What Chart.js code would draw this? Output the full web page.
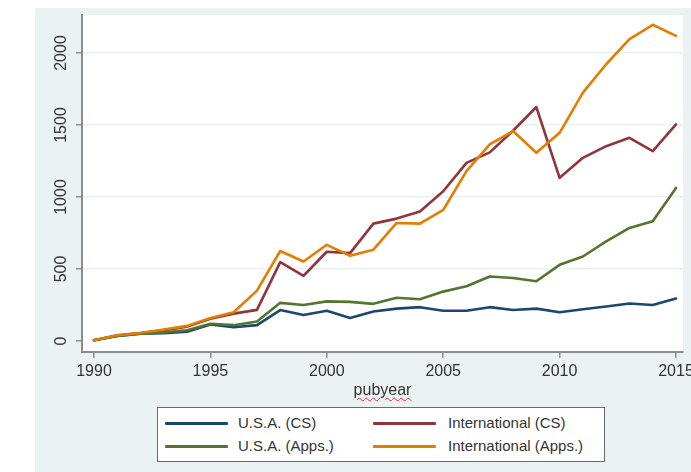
<!DOCTYPE html>
<html>
<head>
<meta charset="utf-8">
<script src="https://cdn.jsdelivr.net/npm/chart.js@4/dist/chart.umd.min.js"></script>
<style>
  html, body { margin: 0; padding: 0; background: #fff; }
  #wrap { position: relative; width: 691px; height: 472px; overflow: hidden; }
  #region { position: absolute; left: 35px; top: 8px; width: 656px; height: 464px; background: #eaf2f3; }
  #chart { position: absolute; left: 0; top: 0; }
  #xtitle { position: absolute; top: 381px; left: 82px; width: 601px; text-align: center;
            font: 16px "Liberation Sans", Arial, sans-serif; color: #333;
            text-decoration: underline wavy #e0303a; text-underline-offset: 2px; text-decoration-thickness: 1px; }
  #legend { position: absolute; left: 157px; top: 407px; width: 446px; height: 53px;
            background: #fff; border: 1px solid #6a6a6a; }
  .item { position: absolute; height: 20px; font: 15px "Liberation Sans", Arial, sans-serif; color: #333; }
  .swatch { position: absolute; top: 8px; left: 0; width: 63px; height: 3px; border-radius: 1px; }
  .label { position: absolute; top: 0px; white-space: nowrap; }
</style>
</head>
<body>
<div id="wrap">
  <div id="region"></div>
  <canvas id="chart" width="691" height="472"></canvas>
  <div id="xtitle">pubyear</div>
  <div id="legend"></div>
</div>
<script>
// Publications per year, 1990–2015
const years = [1990, 1991, 1992, 1993, 1994, 1995, 1996, 1997, 1998, 1999, 2000, 2001, 2002,
               2003, 2004, 2005, 2006, 2007, 2008, 2009, 2010, 2011, 2012, 2013, 2014, 2015];
const usaCS   = [5, 35, 50, 55, 65, 115, 95, 110, 215, 180, 210, 160, 205,
                 225, 235, 210, 210, 235, 215, 225, 200, 220, 240, 260, 250, 295];
const intlCS  = [5, 40, 55, 75, 100, 155, 190, 216, 548, 453, 620, 610, 815,
                 850, 900, 1040, 1237, 1310, 1460, 1625, 1133, 1272, 1353, 1411, 1318, 1504];
const usaApps = [5, 35, 50, 60, 75, 120, 110, 135, 265, 250, 275, 272, 258,
                 300, 290, 343, 380, 448, 437, 415, 529, 587, 692, 785, 831, 1063];
const intlApps = [5, 40, 55, 80, 105, 160, 200, 350, 625, 552, 668, 592, 634,
                  820, 815, 910, 1180, 1365, 1458, 1307, 1446, 1725, 1922, 2096, 2196, 2119];

const seriesNames = ['U.S.A. (CS)', 'International (CS)', 'U.S.A. (Apps.)', 'International (Apps.)'];
const seriesValues = [usaCS, intlCS, usaApps, intlApps];
const seriesColors = ['#1a476f', '#90353b', '#55752f', '#e37e00'];

const xTickValues = [1990, 1995, 2000, 2005, 2010, 2015];
const yTickValues = [0, 500, 1000, 1500, 2000];

const FONT = '"Liberation Sans", Arial, sans-serif';
const AXIS = '#8c8c8c';

// Later series sit on top, so they get a lower draw order
const datasets = seriesValues.map((vals, i) => ({
  label: seriesNames[i],
  data: years.map((yr, j) => ({ x: yr, y: vals[j] })),
  borderColor: seriesColors[i],
  borderWidth: 2.6,
  pointRadius: 0,
  tension: 0,
  borderJoinStyle: 'round',
  borderCapStyle: 'round',
  order: seriesValues.length - i
}));

// White plot region and rotated y tick labels
const plotDecor = {
  id: 'plotDecor',
  beforeDraw(chart) {
    const { ctx, chartArea: a } = chart;
    ctx.save();
    ctx.fillStyle = '#ffffff';
    ctx.fillRect(a.left, a.top, a.right - a.left, a.bottom - a.top);
    ctx.restore();
  },
  afterDraw(chart) {
    const { ctx } = chart;
    const s = chart.scales.y;
    ctx.save();
    ctx.font = '16px ' + FONT;
    ctx.fillStyle = '#333';
    ctx.textAlign = 'center';
    ctx.textBaseline = 'middle';
    yTickValues.forEach(v => {
      const py = s.getPixelForValue(v);
      ctx.save();
      ctx.translate(62, py);
      ctx.rotate(-Math.PI / 2);
      ctx.fillText(String(v), 0, 0);
      ctx.restore();
    });
    ctx.restore();
  }
};

new Chart(document.getElementById('chart'), {
  type: 'line',
  data: { datasets },
  options: {
    responsive: false,
    animation: false,
    events: [],
    layout: { padding: { left: 33, top: 15, right: 8, bottom: 70 } },
    plugins: { legend: { display: false }, tooltip: { enabled: false } },
    scales: {
      x: {
        type: 'linear',
        min: 1989.485,
        max: 2015.3,
        afterBuildTicks: s => { s.ticks = xTickValues.map(v => ({ value: v })); },
        afterFit: s => { s.height = 50; s.paddingLeft = 0; s.paddingRight = 0; },
        border: { color: AXIS, width: 2 },
        grid: { drawOnChartArea: false, drawTicks: true, tickLength: 6, tickColor: AXIS, lineWidth: 1.5 },
        ticks: { font: { family: FONT, size: 16 }, color: '#333', padding: 4, maxRotation: 0,
                 callback: v => String(v) }
      },
      y: {
        type: 'linear',
        min: -76.4,
        max: 2264,
        afterBuildTicks: s => { s.ticks = yTickValues.map(v => ({ value: v })); },
        afterFit: s => { s.width = 49; s.paddingTop = 0; s.paddingBottom = 0; },
        border: { color: AXIS, width: 2 },
        grid: {
          color: c => (c.tick && c.tick.value === 0) ? 'rgba(0,0,0,0)' : '#eaf1f2',
          lineWidth: 1.5,
          drawTicks: true, tickLength: 6, tickColor: AXIS
        },
        ticks: { color: 'rgba(0,0,0,0)', font: { family: FONT, size: 16 } }
      }
    }
  },
  plugins: [plotDecor]
});

// Legend, two columns in series order
const legend = document.getElementById('legend');
const cols = [7, 215];
const rows = [6, 29];
seriesNames.forEach((name, i) => {
  const item = document.createElement('div');
  item.className = 'item';
  item.style.left = cols[i % 2] + 'px';
  item.style.top = rows[Math.floor(i / 2)] + 'px';
  const sw = document.createElement('div');
  sw.className = 'swatch';
  sw.style.background = seriesColors[i];
  const lb = document.createElement('div');
  lb.className = 'label';
  lb.style.left = (i % 2 ? 75 : 73) + 'px';
  lb.textContent = name;
  item.appendChild(sw);
  item.appendChild(lb);
  legend.appendChild(item);
});
</script>
</body>
</html>
